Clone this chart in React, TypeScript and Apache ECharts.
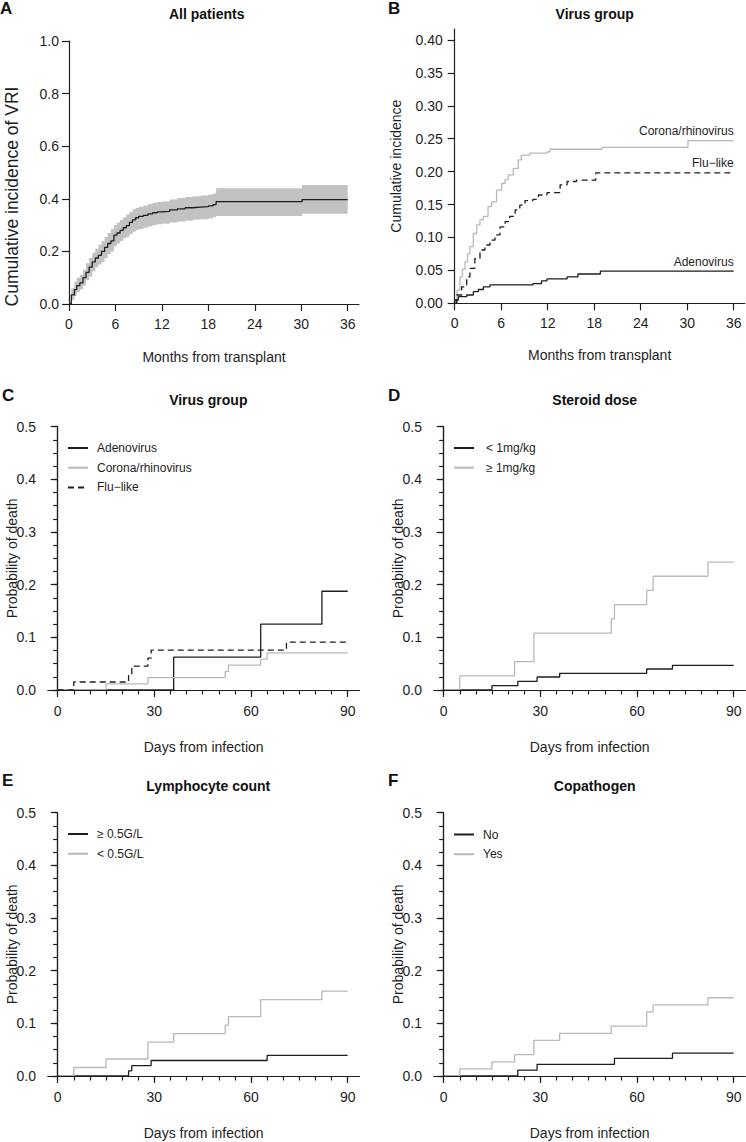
import React, { useEffect, useRef } from "react";
import * as echarts from "echarts";

const FONT = "'Liberation Sans', Arial, Helvetica, sans-serif";
const INK = "#1e1e1e";
const GRAY = "#b9b9b9";
const BAND = "#c2c2c2";

// ---------- Panel A: all patients (months, cumulative incidence + 95% CI) ----------
const aMonths = [0, 0.3, 0.7, 1, 1.4, 1.8, 2.2, 2.6, 3, 3.4, 3.8, 4.2, 4.6, 5, 5.4, 5.8, 6.2, 6.6, 7, 7.4, 7.8, 8.2, 8.6, 9, 9.6, 10.2, 10.8, 11.4, 12, 13, 14, 15, 16, 17, 18, 18.6, 19.0, 30.1, 36];
const aIncidence = [0, 0.035, 0.055, 0.07, 0.08, 0.1, 0.12, 0.14, 0.16, 0.175, 0.185, 0.2, 0.215, 0.23, 0.24, 0.262, 0.27, 0.28, 0.29, 0.298, 0.31, 0.32, 0.328, 0.333, 0.337, 0.343, 0.347, 0.35, 0.352, 0.358, 0.362, 0.366, 0.368, 0.37, 0.373, 0.378, 0.389, 0.397, 0.397];
const aLower = [0, 0.015, 0.03, 0.045, 0.055, 0.07, 0.09, 0.105, 0.125, 0.14, 0.15, 0.16, 0.175, 0.19, 0.2, 0.22, 0.23, 0.24, 0.25, 0.255, 0.265, 0.275, 0.28, 0.285, 0.29, 0.295, 0.3, 0.303, 0.305, 0.31, 0.314, 0.317, 0.32, 0.322, 0.325, 0.33, 0.335, 0.343, 0.343];
const aUpper = [0, 0.06, 0.085, 0.1, 0.11, 0.13, 0.155, 0.175, 0.195, 0.21, 0.225, 0.24, 0.255, 0.27, 0.285, 0.3, 0.31, 0.32, 0.33, 0.34, 0.35, 0.36, 0.365, 0.37, 0.375, 0.38, 0.385, 0.388, 0.39, 0.397, 0.403, 0.407, 0.41, 0.413, 0.416, 0.42, 0.44, 0.452, 0.452];

// ---------- Panel B: virus group (months, cumulative incidence) ----------
const bCoronaMonths = [0, 0.3, 0.68, 1.0, 1.33, 1.65, 1.97, 2.4, 2.84, 3.26, 3.7, 4.3, 4.77, 5.4, 6.06, 6.5, 6.9, 7.56, 8.2, 8.6, 9.7, 11.9, 12.3, 19.0, 30.1, 36];
const bCoronaValues = [0, 0.02, 0.04, 0.052, 0.063, 0.075, 0.086, 0.106, 0.119, 0.127, 0.132, 0.147, 0.154, 0.172, 0.182, 0.188, 0.195, 0.205, 0.218, 0.225, 0.228, 0.23, 0.234, 0.237, 0.247, 0.247];
const bFluMonths = [0, 0.26, 0.9, 1.55, 1.97, 2.6, 3.26, 3.9, 4.55, 5.2, 5.85, 6.5, 7.1, 7.8, 8.4, 9.07, 10.1, 10.8, 11.9, 13.6, 14.5, 15.7, 18.2, 36];
const bFluValues = [0, 0.0126, 0.025, 0.04, 0.053, 0.068, 0.081, 0.0886, 0.096, 0.104, 0.116, 0.124, 0.132, 0.142, 0.149, 0.156, 0.158, 0.1645, 0.168, 0.18, 0.185, 0.187, 0.198, 0.198];
const bAdenoMonths = [0, 0.04, 0.47, 1.55, 2.4, 3.05, 3.7, 4.55, 10.1, 11.2, 11.9, 14.5, 15.9, 18.8, 36];
const bAdenoValues = [0, 0.005, 0.01, 0.0126, 0.0177, 0.021, 0.025, 0.028, 0.03, 0.034, 0.037, 0.04, 0.0445, 0.049, 0.049];

// ---------- Tick values ----------
const monthTicks = [0, 6, 12, 18, 24, 30, 36];
const aYTicks = [0, 0.2, 0.4, 0.6, 0.8, 1.0];
const bYTicks = [0, 0.05, 0.1, 0.15, 0.2, 0.25, 0.3, 0.35, 0.4];
const dayTicks = [0, 30, 60, 90];
const dayMinorTicks = [0, 5, 10, 15, 20, 25, 30, 35, 40, 45, 50, 55, 60, 65, 70, 75, 80, 85, 90];
const probTicks = [0, 0.1, 0.2, 0.3, 0.4, 0.5];
const probMinorTicks = [0, 0.025, 0.05, 0.075, 0.1, 0.125, 0.15, 0.175, 0.2, 0.225, 0.25, 0.275, 0.3, 0.325, 0.35, 0.375, 0.4, 0.425, 0.45, 0.475, 0.5];

// ---------- Panel C: virus group (days, probability of death) ----------
const cAdenoDays = [0, 36, 63, 82, 90];
const cAdenoProb = [0, 0.0625, 0.125, 0.1875, 0.1875];
const cCoronaDays = [0, 15, 28, 52, 53, 63, 65, 90];
const cCoronaProb = [0, 0.0118, 0.0235, 0.0353, 0.0471, 0.0588, 0.0706, 0.0706];
const cFluDays = [0, 5, 22, 23, 28, 29, 71, 90];
const cFluProb = [0, 0.0152, 0.0303, 0.0455, 0.0606, 0.0758, 0.0909, 0.0909];

// ---------- Panel D: steroid dose ----------
const dLowDays = [0, 15, 23, 29, 36, 63, 71, 90];
const dLowProb = [0, 0.0082, 0.0165, 0.0247, 0.0316, 0.0399, 0.0468, 0.0468];
const dHighDays = [0, 5, 22, 28, 52, 53, 63, 65, 82, 90];
const dHighProb = [0, 0.027, 0.054, 0.108, 0.135, 0.162, 0.189, 0.216, 0.243, 0.243];

// ---------- Panel E: lymphocyte count ----------
const eHighDays = [0, 22, 23, 29, 65, 90];
const eHighProb = [0, 0.0099, 0.0198, 0.0294, 0.039, 0.039];
const eLowDays = [0, 5, 15, 28, 36, 52, 53, 63, 82, 90];
const eLowProb = [0, 0.0161, 0.0323, 0.0645, 0.0806, 0.0968, 0.1129, 0.1452, 0.1613, 0.1613];

// ---------- Panel F: copathogen ----------
const fNoDays = [0, 23, 29, 53, 71, 90];
const fNoProb = [0, 0.0111, 0.0222, 0.0333, 0.0435, 0.0435];
const fYesDays = [0, 5, 15, 22, 28, 36, 52, 63, 65, 82, 90];
const fYesProb = [0, 0.0135, 0.027, 0.0405, 0.0676, 0.0811, 0.0946, 0.1216, 0.1351, 0.1486, 0.1486];

const pairs = (xs: number[], ys: number[]) => xs.map((x, i) => [x, ys[i]]);
const last = (a: number[]) => a[a.length - 1];

const axisLineStyle = { color: INK, width: 1.2 };
const txt = (size: number, extra: any = {}) => ({ fontFamily: FONT, fontSize: size, color: INK, ...extra });

function buildOption() {
  const gridBase = { outerBoundsMode: "none", containLabel: false };
  const grid: any[] = [
    { ...gridBase, left: 69, top: 41, width: 290, height: 263 },
    { ...gridBase, left: 454.7, top: 29, width: 290, height: 274.3 },
    { ...gridBase, left: 48, top: 426.7, width: 311.3, height: 263.3 },
    { ...gridBase, left: 434, top: 426.7, width: 311.3, height: 263.3 },
    { ...gridBase, left: 48, top: 812.7, width: 311.3, height: 263.3 },
    { ...gridBase, left: 434, top: 812.7, width: 311.3, height: 263.3 },
  ];
  const xAxis: any[] = [];
  const yAxis: any[] = [];
  const series: any[] = [];
  const legend: any[] = [];

  // Panel A axes
  xAxis.push({
    type: "value", gridIndex: 0, min: 0, max: 37.46, position: "bottom", z: 5,
    name: "Months from transplant", nameLocation: "middle", nameGap: 46, nameMoveOverlap: false, nameTextStyle: txt(14),
    axisLine: { show: true, onZero: true, lineStyle: axisLineStyle },
    axisTick: { show: true, length: 7, customValues: monthTicks, lineStyle: axisLineStyle },
    axisLabel: { show: true, customValues: monthTicks, margin: 13, ...txt(14), formatter: (v: number) => String(v) },
    splitLine: { show: false },
  });
  yAxis.push({
    type: "value", gridIndex: 0, min: 0, max: 1.0, interval: 0.2, position: "left", z: 5,
    name: "Cumulative incidence of VRI", nameLocation: "middle", nameGap: 48, nameRotate: 90, nameMoveOverlap: false,
    nameTextStyle: txt(17.5, { padding: [0, 48, 0, 0] }),
    axisLine: { show: true, onZero: true, lineStyle: axisLineStyle },
    axisTick: { show: true, length: 7, customValues: aYTicks, lineStyle: axisLineStyle },
    axisLabel: { show: true, customValues: aYTicks, margin: 10, ...txt(14), formatter: (v: number) => v.toFixed(1) },
    splitLine: { show: false },
  });
  // Panel B axes
  xAxis.push({
    type: "value", gridIndex: 1, min: 0, max: 37.42, position: "bottom", z: 5,
    name: "Months from transplant", nameLocation: "middle", nameGap: 45, nameMoveOverlap: false, nameTextStyle: txt(14),
    axisLine: { show: true, onZero: true, lineStyle: axisLineStyle },
    axisTick: { show: true, length: 7, customValues: monthTicks, lineStyle: axisLineStyle },
    axisLabel: { show: true, customValues: monthTicks, margin: 13, ...txt(14), formatter: (v: number) => String(v) },
    splitLine: { show: false },
  });
  yAxis.push({
    type: "value", gridIndex: 1, min: 0, max: 0.4167, position: "left", z: 5,
    name: "Cumulative incidence", nameLocation: "middle", nameGap: 52, nameRotate: 90, nameMoveOverlap: false, nameTextStyle: txt(14),
    axisLine: { show: true, onZero: true, lineStyle: axisLineStyle },
    axisTick: { show: true, length: 7, customValues: bYTicks, lineStyle: axisLineStyle },
    axisLabel: { show: true, customValues: bYTicks, margin: 12, ...txt(14), formatter: (v: number) => v.toFixed(2) },
    splitLine: { show: false },
  });

  // Panels C-F axes (major + minor ticks on twin axes)
  const dayPanels = [2, 3, 4, 5];
  const axisIdx: Record<number, { x: number; y: number }> = {};
  dayPanels.forEach((g) => {
    const xi = xAxis.length;
    xAxis.push({
      type: "value", gridIndex: g, min: -3, max: 93.6, position: "bottom", z: 5,
      name: "Days from infection", nameLocation: "middle", nameGap: 50, nameMoveOverlap: false, nameTextStyle: txt(14),
      axisLine: { show: true, onZero: true, lineStyle: axisLineStyle },
      axisTick: { show: true, length: 7, customValues: dayTicks, lineStyle: axisLineStyle },
      axisLabel: { show: true, customValues: dayTicks, margin: 14, ...txt(14), formatter: (v: number) => String(v) },
      splitLine: { show: false },
    });
    xAxis.push({
      type: "value", gridIndex: g, min: -3, max: 93.6, position: "bottom", z: 5,
      axisLine: { show: true, onZero: true, lineStyle: axisLineStyle },
      axisTick: { show: true, length: 4.5, customValues: dayMinorTicks, lineStyle: axisLineStyle },
      axisLabel: { show: false },
      splitLine: { show: false },
    });
    const yi = yAxis.length;
    yAxis.push({
      type: "value", gridIndex: g, min: 0, max: 0.5, position: "left", z: 5,
      name: "Probability of death", nameLocation: "middle", nameGap: 29.5, nameRotate: 90, nameMoveOverlap: false, nameTextStyle: txt(14),
      axisLine: { show: true, onZero: true, lineStyle: axisLineStyle },
      axisTick: { show: true, length: 7, customValues: probTicks, lineStyle: axisLineStyle },
      axisLabel: { show: true, customValues: probTicks, margin: 12, ...txt(14), formatter: (v: number) => v.toFixed(1) },
      splitLine: { show: false },
    });
    yAxis.push({
      type: "value", gridIndex: g, min: 0, max: 0.5, position: "left", z: 5,
      axisLine: { show: true, onZero: true, lineStyle: axisLineStyle },
      axisTick: { show: true, length: 4.5, customValues: probMinorTicks, lineStyle: axisLineStyle },
      axisLabel: { show: false },
      splitLine: { show: false },
    });
    axisIdx[g] = { x: xi, y: yi };
  });

  const stepLine = (name: string, xi: number, yi: number, data: number[][], color: string, dashed = false, extra: any = {}) => ({
    type: "line", name, xAxisIndex: xi, yAxisIndex: yi, data, step: "end", symbol: "none", showSymbol: false,
    color, lineStyle: { color, width: 1.3, type: dashed ? [6, 4] : "solid" }, z: 3, silent: true, ...extra,
  });

  // Panel A series: CI band as one stepped polygon (via the axes' scales) + estimate
  series.push({
    type: "custom", name: "95% CI", xAxisIndex: 0, yAxisIndex: 0, silent: true, z: 1, clip: true,
    data: aMonths.map((m, i) => [m, aLower[i], aUpper[i]]),
    encode: { x: 0, y: [1, 2] },
    renderItem: (params: any, api: any) => {
      if (params.dataIndex !== 0) return null;
      const n = aMonths.length;
      const pts: number[][] = [];
      for (let i = 0; i < n; i++) {
        pts.push(api.coord([aMonths[i], aUpper[i]]));
        if (i < n - 1) pts.push(api.coord([aMonths[i + 1], aUpper[i]]));
      }
      for (let i = n - 1; i >= 0; i--) {
        if (i < n - 1) pts.push(api.coord([aMonths[i + 1], aLower[i]]));
        pts.push(api.coord([aMonths[i], aLower[i]]));
      }
      return { type: "polygon", shape: { points: pts }, style: { fill: BAND, stroke: "none" } };
    },
  });
  series.push(stepLine("All patients", 0, 0, pairs(aMonths, aIncidence), INK));

  // Panel B series with end labels
  const endLabel = (text: string, lastX: number, lastY: number) => ({
    symbol: "circle", symbolSize: 1, silent: true, itemStyle: { color: "transparent" },
    label: { show: true, position: "top", align: "right", distance: 3, formatter: text, ...txt(12) },
    data: [{ coord: [lastX, lastY] }],
  });
  series.push(stepLine("Corona/rhinovirus", 1, 1, pairs(bCoronaMonths, bCoronaValues), GRAY, false,
    { markPoint: endLabel("Corona/rhinovirus", last(bCoronaMonths), last(bCoronaValues)) }));
  series.push(stepLine("Flu\u2212like", 1, 1, pairs(bFluMonths, bFluValues), INK, true,
    { markPoint: endLabel("Flu\u2212like", last(bFluMonths), last(bFluValues)) }));
  series.push(stepLine("Adenovirus", 1, 1, pairs(bAdenoMonths, bAdenoValues), INK, false,
    { markPoint: endLabel("Adenovirus", last(bAdenoMonths), last(bAdenoValues)) }));

  // Panel C
  const C = axisIdx[2];
  series.push(stepLine("Adenovirus", C.x, C.y, pairs(cAdenoDays, cAdenoProb), INK));
  series.push(stepLine("Corona/rhinovirus", C.x, C.y, pairs(cCoronaDays, cCoronaProb), GRAY));
  series.push(stepLine("Flu\u2212like", C.x, C.y, pairs(cFluDays, cFluProb), INK, true));
  // Panel D
  const D = axisIdx[3];
  series.push(stepLine("< 1mg/kg", D.x, D.y, pairs(dLowDays, dLowProb), INK));
  series.push(stepLine("\u2265 1mg/kg", D.x, D.y, pairs(dHighDays, dHighProb), GRAY));
  // Panel E
  const E = axisIdx[4];
  series.push(stepLine("\u2265 0.5G/L", E.x, E.y, pairs(eHighDays, eHighProb), INK));
  series.push(stepLine("< 0.5G/L", E.x, E.y, pairs(eLowDays, eLowProb), GRAY));
  // Panel F
  const F = axisIdx[5];
  series.push(stepLine("No", F.x, F.y, pairs(fNoDays, fNoProb), INK));
  series.push(stepLine("Yes", F.x, F.y, pairs(fYesDays, fYesProb), GRAY));

  const mkLegend = (names: string[], left: number, top: number, textGap: number) => ({
    show: true, orient: "vertical", left, top, padding: 0, itemWidth: 20, itemHeight: 14, itemGap: 7.7,
    selectedMode: false, data: names, itemStyle: { opacity: 0 },
    textStyle: txt(12, { padding: [0, 0, 0, textGap] }),
  });
  legend.push(mkLegend(["Adenovirus", "Corona/rhinovirus", "Flu\u2212like"], 67, 442, 4));
  legend.push(mkLegend(["< 1mg/kg", "\u2265 1mg/kg"], 453, 442, 7));
  legend.push(mkLegend(["\u2265 0.5G/L", "< 0.5G/L"], 67, 828, 4));
  legend.push(mkLegend(["No", "Yes"], 453, 828.5, 4));

  const letter = (text: string, left: number, top: number) => ({
    text, left, top, padding: 0, textStyle: txt(17, { fontWeight: "bold", color: "#111" }),
  });
  const heading = (text: string, x: number, top: number) => ({
    text, left: x, top, padding: 0, textAlign: "center", textStyle: txt(14, { fontWeight: "bold", color: "#111" }),
  });
  const title = [
    letter("A", 0, 0), heading("All patients", 206.7, 6.5),
    letter("B", 388, 0), heading("Virus group", 594.7, 7),
    letter("C", 2, 387), heading("Virus group", 208.3, 393),
    letter("D", 388, 387), heading("Steroid dose", 594.7, 393),
    letter("E", 2, 772), heading("Lymphocyte count", 208.3, 779),
    letter("F", 388, 772), heading("Copathogen", 594.7, 779),
  ];

  return {
    animation: false,
    backgroundColor: "#ffffff",
    textStyle: { fontFamily: FONT },
    title, grid, xAxis, yAxis, series, legend,
  };
}

export default function App() {
  const ref = useRef<HTMLDivElement>(null);
  useEffect(() => {
    if (!ref.current) return;
    const chart = echarts.init(ref.current, null, { renderer: "svg", width: 746, height: 1142 });
    chart.setOption(buildOption() as any);
    return () => chart.dispose();
  }, []);
  return (
    <div
      ref={ref}
      style={{ position: "absolute", left: 0, top: 0, width: 746, height: 1142, background: "#fff" }}
    />
  );
}
